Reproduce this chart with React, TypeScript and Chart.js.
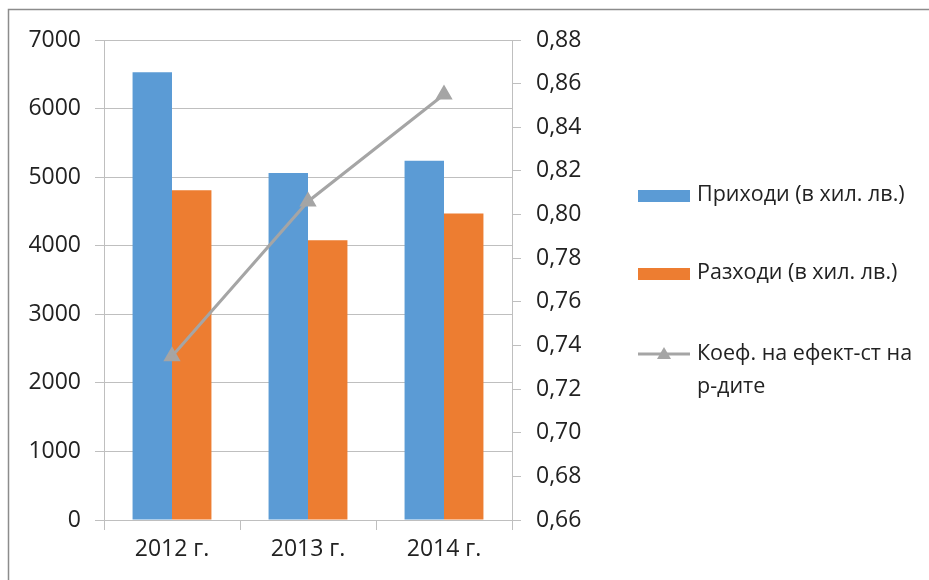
import React, { useEffect, useRef } from "react";
import { Chart, registerables } from "chart.js";

Chart.register(...registerables);

const categories = ["2012 г.", "2013 г.", "2014 г."];
const incomeLabel = "Приходи (в хил. лв.)";
const expenseLabel = "Разходи (в хил. лв.)";
const ratioLabel = ["Коеф. на ефект-ст на", "р-дите"];
const income = [6530, 5060, 5240];
const expenses = [4810, 4080, 4470];
const ratio = [0.735, 0.806, 0.855];

const BLUE = "#5B9BD5";
const ORANGE = "#ED7D31";
const GRAY = "#A5A5A5";
const GRID = "#BFBFBF";
const TEXT = "#222222";
const FONT = "'Open Sans', 'Liberation Sans', sans-serif";

const framePlugin = {
  id: "frame",
  beforeDraw(chart: any) {
    const ctx = chart.ctx;
    ctx.save();
    ctx.fillStyle = "#ffffff";
    ctx.fillRect(0, 0, chart.width, chart.height);
    ctx.strokeStyle = "#8c8c8c";
    ctx.lineWidth = 1.5;
    ctx.beginPath();
    ctx.moveTo(8.5, chart.height);
    ctx.lineTo(8.5, 9.5);
    ctx.lineTo(chart.width, 9.5);
    ctx.stroke();
    ctx.restore();
  },
};

const legendPlugin = {
  id: "customLegend",
  afterDraw(chart: any) {
    const ctx = chart.ctx;
    ctx.save();
    ctx.font = `21.5px ${FONT}`;
    ctx.fillStyle = TEXT;
    ctx.textBaseline = "middle";
    ctx.textAlign = "left";
    const sx = 638;
    const sw = 52;
    const tx = 697;
    ctx.fillStyle = BLUE;
    ctx.fillRect(sx, 190, sw, 12);
    ctx.fillStyle = TEXT;
    ctx.fillText(incomeLabel, tx, 195);
    ctx.fillStyle = ORANGE;
    ctx.fillRect(sx, 268, sw, 12);
    ctx.fillStyle = TEXT;
    ctx.fillText(expenseLabel, tx, 273);
    ctx.strokeStyle = GRAY;
    ctx.lineWidth = 3;
    ctx.beginPath();
    ctx.moveTo(sx, 354);
    ctx.lineTo(sx + sw, 354);
    ctx.stroke();
    ctx.fillStyle = GRAY;
    const cx = sx + sw / 2;
    ctx.beginPath();
    ctx.moveTo(cx, 347);
    ctx.lineTo(cx + 7, 359);
    ctx.lineTo(cx - 7, 359);
    ctx.closePath();
    ctx.fill();
    ctx.fillStyle = TEXT;
    ctx.fillText(ratioLabel[0], tx, 354);
    ctx.fillText(ratioLabel[1], tx, 387);
    ctx.restore();
  },
};

export default function App() {
  const ref = useRef<HTMLCanvasElement>(null);
  useEffect(() => {
    if (!ref.current) return;
    const tickFont = { family: FONT, size: 23 };
    const chart = new Chart(ref.current, {
      type: "bar",
      data: {
        labels: categories,
        datasets: [
          {
            type: "line",
            label: ratioLabel.join(" "),
            data: ratio,
            yAxisID: "y1",
            borderColor: GRAY,
            backgroundColor: GRAY,
            borderWidth: 3,
            pointStyle: "triangle",
            pointRadius: 7,
            pointBackgroundColor: GRAY,
            pointBorderColor: GRAY,
            order: 0,
          } as any,
          {
            type: "bar",
            label: incomeLabel,
            data: income,
            backgroundColor: BLUE,
            yAxisID: "y",
            barPercentage: 1,
            categoryPercentage: 0.58,
            order: 1,
          },
          {
            type: "bar",
            label: expenseLabel,
            data: expenses,
            backgroundColor: ORANGE,
            yAxisID: "y",
            barPercentage: 1,
            categoryPercentage: 0.58,
            order: 1,
          },
        ],
      },
      options: {
        responsive: false,
        animation: false,
        layout: { padding: { top: 40, left: 0, right: 0, bottom: 0 } },
        plugins: {
          legend: { display: false },
          tooltip: { enabled: false },
        },
        scales: {
          x: {
            offset: true,
            grid: {
              offset: true,
              drawOnChartArea: false,
              drawTicks: true,
              tickLength: 10,
              color: GRID,
            },
            border: { display: true, color: GRID },
            ticks: { font: tickFont, color: TEXT, padding: 6 },
            afterFit: (s: any) => {
              s.height = 60;
            },
          },
          y: {
            position: "left",
            min: 0,
            max: 7000,
            ticks: {
              stepSize: 1000,
              font: tickFont,
              color: TEXT,
              padding: 14,
              callback: (v: any) => String(v),
            },
            grid: { color: GRID, tickLength: 9 },
            border: { display: true, color: GRID },
            afterFit: (s: any) => {
              s.width = 104;
            },
          },
          y1: {
            position: "right",
            min: 0.66,
            max: 0.88,
            ticks: {
              stepSize: 0.02,
              font: tickFont,
              color: TEXT,
              padding: 15,
              callback: (v: any) => Number(v).toFixed(2).replace(".", ","),
            },
            grid: { drawOnChartArea: false, color: GRID, tickLength: 9 },
            border: { display: true, color: GRID },
            afterFit: (s: any) => {
              s.width = 929 - 512;
            },
          },
        },
      },
      plugins: [framePlugin, legendPlugin],
    });
    return () => chart.destroy();
  }, []);
  return (
    <div style={{ position: "absolute", left: 0, top: 0, width: 929, height: 580 }}>
      <canvas ref={ref} width={929} height={580} style={{ display: "block" }} />
    </div>
  );
}
